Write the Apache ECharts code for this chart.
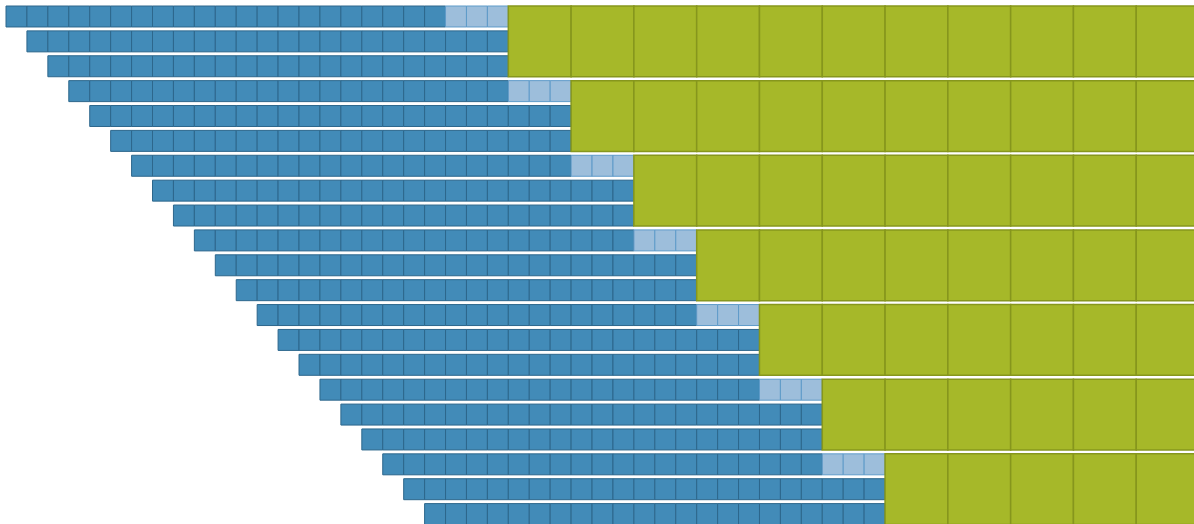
<!DOCTYPE html>
<html>
<head>
<meta charset="utf-8">
<script src="https://cdn.jsdelivr.net/npm/echarts@6/dist/echarts.min.js"></script>
<style>
html,body{margin:0;padding:0;background:#fff;}
#chart{width:1194px;height:524px;}
</style>
</head>
<body>
<div id="chart"></div>
<script>
// Row layout (in cell units)
const rowStart = [0,1,2,3,4,5,6,7,8,9,10,11,12,13,14,15,16,17,18,19,20];
const darkEnd  = [21,24,24,24,27,27,27,30,30,30,33,33,33,36,36,36,39,39,39,42,42];
// Light cells (first row of each group)
const lightRow   = [0,3,6,9,12,15,18];
const lightStart = [21,24,27,30,33,36,39];
const lightEnd   = [24,27,30,33,36,39,42];
// Green blocks (each group of 3 rows)
const greenRow   = [0,3,6,9,12,15,18];
const greenStart = [24,27,30,33,36,39,42];
const greenEnd   = 57;
const greenSpan  = 3;
const groupRows  = 3;

const data = [];
for (let i = 0; i < rowStart.length; i++) {
  for (let c = rowStart[i]; c < darkEnd[i]; c++) data.push([c, c + 1, i, i + 1, 0]);
}
for (let g = 0; g < lightRow.length; g++) {
  for (let c = lightStart[g]; c < lightEnd[g]; c++) data.push([c, c + 1, lightRow[g], lightRow[g] + 1, 1]);
}
for (let g = 0; g < greenRow.length; g++) {
  for (let c = greenStart[g]; c < greenEnd; c += greenSpan) data.push([c, c + greenSpan, greenRow[g], greenRow[g] + groupRows, 2]);
}

const styles = [
  {fill:'#428bb8', stroke:'#2d678c', lineWidth:1},
  {fill:'#9dbedb', stroke:'#5f9bc9', lineWidth:1},
  {fill:'#a6b829', stroke:'#86961d', lineWidth:1.5}
];

const chart = echarts.init(document.getElementById('chart'), null, {renderer:'canvas'});
chart.setOption({
  animation:false,
  grid:{left:6, top:6, right:0, bottom:0},
  xAxis:{type:'value', min:0, max:56.76, show:false},
  yAxis:{type:'value', min:0, max:20.82, inverse:true, show:false},
  series:[{
    type:'custom',
    clip:false,
    encode:{x:[0,1], y:[2,3]},
    data:data,
    renderItem:function(params, api){
      const x0 = api.value(0), x1 = api.value(1), r0 = api.value(2), r1 = api.value(3), k = api.value(4);
      const p0 = api.coord([x0, r0]);
      const p1 = api.coord([x1, r1]);
      const s = styles[k];
      return {
        type:'rect',
        shape:{x:p0[0], y:p0[1], width:p1[0]-p0[0], height:p1[1]-p0[1]-3.9},
        style:{fill:s.fill, stroke:s.stroke, lineWidth:s.lineWidth}
      };
    }
  }]
});
</script>
</body>
</html>
